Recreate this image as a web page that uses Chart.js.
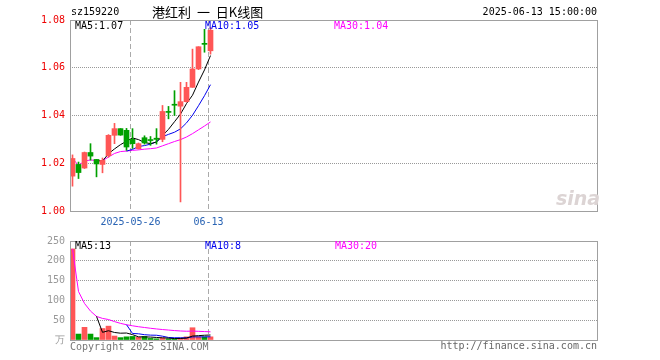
<!DOCTYPE html>
<html>
<head>
<meta charset="utf-8">
<script src="https://cdn.jsdelivr.net/npm/chart.js@4.4.1/dist/chart.umd.min.js"></script>
<style>
  html, body { margin: 0; padding: 0; background: #fff; }
  #wrap { position: relative; width: 660px; height: 360px; overflow: hidden;
          font-family: "DejaVu Sans Mono", monospace; font-size: 10px; color: #000; }
  canvas { position: absolute; left: 0; }
  #kline { top: 0; }
  #vol { top: 230px; }
  .t { position: absolute; white-space: nowrap; line-height: 12px; }
</style>
</head>
<body>
<div id="wrap">
  <canvas id="kline" width="660" height="235"></canvas>
  <canvas id="vol" width="660" height="130"></canvas>

  <div class="t" style="left:71px; top:6px;">sz159220</div>
  <div class="t" style="left:152px; top:4px; line-height:16px; font-family:'Noto Sans CJK SC', sans-serif; font-size:13px; word-spacing:3px;">港红利 一 日K线图</div>
  <div class="t" style="right:63px; top:6px;">2025-06-13 15:00:00</div>

  <div class="t" style="left:75px; top:20px;">MA5:1.07</div>
  <div class="t" style="left:205px; top:20px; color:#0000ee;">MA10:1.05</div>
  <div class="t" style="left:334px; top:20px; color:#ff00ff;">MA30:1.04</div>

  <div class="t" style="left:556px; top:187px; font-family:'DejaVu Sans', sans-serif; font-weight:bold; font-style:italic; font-size:19px; line-height:22px; color:#dcd4d4;">sina</div>

  <div class="t" style="left:75px; top:240px;">MA5:13</div>
  <div class="t" style="left:205px; top:240px; color:#0000ee;">MA10:8</div>
  <div class="t" style="left:335px; top:240px; color:#ff00ff;">MA30:20</div>

  <div class="t" style="left:70px; top:341px; color:#777;">Copyright 2025 SINA.COM</div>
  <div class="t" style="right:63px; top:340px; color:#666;">http://finance.sina.com.cn</div>
</div>

<script>
// trading days, 2025-05-12 .. 2025-06-13
const dates = ["05-12", "05-13", "05-14", "05-15", "05-16", "05-19", "05-20", "05-21", "05-22", "05-23",
  "05-26", "05-27", "05-28", "05-29", "05-30", "06-03", "06-04", "06-05", "06-06", "06-09",
  "06-10", "06-11", "06-12", "06-13"];
const xTickIdx = [10, 23];
const xTickLabels = ["2025-05-26", "06-13"];

const open = [1.0146, 1.0195, 1.0180, 1.0245, 1.0216, 1.0195, 1.0232, 1.0317, 1.0345, 1.0338,
  1.0300, 1.0261, 1.0307, 1.0297, 1.0305, 1.0300, 1.0415, 1.0446, 1.0439, 1.0458,
  1.0518, 1.0595, 1.0700, 1.0671];
const close = [1.0220, 1.0161, 1.0245, 1.0230, 1.0197, 1.0212, 1.0317, 1.0345, 1.0318, 1.0268,
  1.0282, 1.0282, 1.0285, 1.0295, 1.0300, 1.0417, 1.0413, 1.0443, 1.0458, 1.0518,
  1.0595, 1.0688, 1.0698, 1.0757];
const high = [1.0235, 1.0205, 1.0247, 1.0282, 1.0216, 1.0222, 1.0320, 1.0367, 1.0345, 1.0346,
  1.0345, 1.0285, 1.0315, 1.0312, 1.0345, 1.0442, 1.0438, 1.0504, 1.0539, 1.0539,
  1.0678, 1.0688, 1.0761, 1.0768];
const low = [1.0104, 1.0136, 1.0178, 1.0213, 1.0143, 1.0160, 1.0225, 1.0282, 1.0317, 1.0254,
  1.0262, 1.0259, 1.0280, 1.0275, 1.0280, 1.0290, 1.0386, 1.0400, 1.0038, 1.0456,
  1.0518, 1.0592, 1.0665, 1.0657];

const ma5 = [null, null, null, null, 1.0211, 1.0209, 1.0240, 1.0260, 1.0278, 1.0292,
  1.0306, 1.0299, 1.0287, 1.0282, 1.0289, 1.0316, 1.0342, 1.0374, 1.0406, 1.0450,
  1.0485, 1.0540, 1.0591, 1.0651];
const ma10 = [null, null, null, null, null, null, null, null, null, 1.0251,
  1.0258, 1.0270, 1.0274, 1.0280, 1.0290, 1.0311, 1.0321, 1.0330, 1.0344, 1.0369,
  1.0401, 1.0441, 1.0483, 1.0529];
const ma30 = [1.0220, 1.0191, 1.0209, 1.0214, 1.0211, 1.0211, 1.0226, 1.0241, 1.0249, 1.0251,
  1.0254, 1.0256, 1.0259, 1.0261, 1.0264, 1.0273, 1.0282, 1.0291, 1.0299, 1.0310,
  1.0324, 1.0340, 1.0356, 1.0373];

// volume, 万
const vol = [230, 15, 32, 15, 6, 29, 35, 10, 6, 8, 9, 7, 9, 4, 3, 5, 3, 3, 5, 8, 31, 8, 8, 8];
const volMa5 = [null, null, null, null, 59.6, 19.4, 23.4, 19.0, 17.2, 17.6,
  13.6, 8.0, 7.8, 7.4, 6.4, 5.6, 4.8, 3.6, 3.8, 4.8, 10.0, 11.0, 12.0, 12.6];
const volMa10 = [null, null, null, null, null, null, null, null, null, 38.6,
  16.5, 15.7, 13.4, 12.3, 12.0, 9.6, 6.4, 5.7, 5.6, 5.6, 7.8, 7.9, 7.8, 8.2];
const volMa30 = [230, 122.5, 92.3, 73.0, 59.6, 54.5, 51.7, 46.5, 42.0, 38.6,
  35.9, 33.5, 31.6, 29.6, 27.9, 26.4, 25.1, 23.8, 22.8, 22.1, 22.5, 21.9, 21.3, 20.7];

const RED = "#ff5656";
const GREEN = "#00a000";
const MONO = "DejaVu Sans Mono";

const candleColors = close.map((c, i) => (c >= open[i] ? RED : GREEN));
const xy = (arr) => arr.map((v, i) => ({ x: i, y: v }));

// 6px per trading day, candle 0 centred at x=72.5 in a 527px wide plot
const xMin = -2.5 / 6;
const xMax = xMin + 527 / 6;

const frame = {
  id: "frame",
  afterDraw(chart) {
    const { ctx, chartArea: a } = chart;
    ctx.save();
    ctx.strokeStyle = "#a0a0a0";
    ctx.lineWidth = 1;
    ctx.strokeRect(a.left + 0.5, a.top + 0.5, a.right - a.left, a.bottom - a.top);
    ctx.restore();
  }
};

const xScale = (showLabels) => ({
  type: "linear",
  min: xMin,
  max: xMax,
  offset: false,
  afterBuildTicks: (s) => { s.ticks = xTickIdx.map((i) => ({ value: i - 1 / 3 })); },
  afterFit: (s) => { s.height = showLabels ? 24 : 20; },
  ticks: {
    display: showLabels,
    color: "#2a64b4",
    font: { family: MONO, size: 10 },
    padding: 5,
    maxRotation: 0,
    autoSkip: false,
    callback: (v, idx) => xTickLabels[idx]
  },
  grid: { color: "#aaa", drawTicks: false, offset: false },
  border: { display: false, dash: [5, 3] }
});

const lineSet = (label, arr, color) => ({
  type: "line",
  label,
  data: xy(arr),
  borderColor: color,
  borderWidth: 1,
  pointRadius: 0,
  tension: 0,
  spanGaps: false
});

new Chart(document.getElementById("kline"), {
  type: "bar",
  data: {
    datasets: [
      {
        label: "body",
        data: open.map((o, i) => ({ x: i, y: [o, close[i]] })),
        backgroundColor: candleColors,
        barThickness: 5,
        minBarLength: 1,
        grouped: false
      },
      {
        label: "wick",
        data: low.map((l, i) => ({ x: i, y: [l, high[i]] })),
        backgroundColor: candleColors,
        barThickness: 1,
        grouped: false
      },
      lineSet("MA5", ma5, "#000"),
      lineSet("MA10", ma10, "#0000ee"),
      lineSet("MA30", ma30, "#ff00ff")
    ]
  },
  options: {
    responsive: false,
    animation: false,
    layout: { padding: { top: 20, right: 63, left: 0, bottom: 0 } },
    plugins: { legend: { display: false }, tooltip: { enabled: false } },
    scales: {
      x: xScale(true),
      y: {
        min: 1.0,
        max: 1.08,
        afterFit: (s) => { s.width = 70; },
        ticks: {
          stepSize: 0.02,
          color: "#ee0000",
          font: { family: MONO, size: 10 },
          padding: 5,
          callback: (v) => v.toFixed(2)
        },
        grid: {
          drawTicks: false,
          color: (c) => (c.index === 0 || c.index === 4 ? "rgba(0,0,0,0)" : "#999")
        },
        border: { display: false, dash: [1, 1] }
      }
    }
  },
  plugins: [frame]
});

new Chart(document.getElementById("vol"), {
  type: "bar",
  data: {
    datasets: [
      lineSet("MA5", volMa5, "#000"),
      lineSet("MA10", volMa10, "#0000ee"),
      lineSet("MA30", volMa30, "#ff00ff"),
      {
        label: "vol",
        data: xy(vol),
        backgroundColor: candleColors,
        barThickness: 5,
        grouped: false
      }
    ]
  },
  options: {
    responsive: false,
    animation: false,
    layout: { padding: { top: 10, right: 63, left: 0, bottom: 0 } },
    plugins: { legend: { display: false }, tooltip: { enabled: false } },
    scales: {
      x: xScale(false),
      y: {
        min: 0,
        max: 250,
        afterFit: (s) => { s.width = 70; },
        ticks: {
          stepSize: 50,
          color: "#999",
          font: { family: MONO, size: 10 },
          padding: 5,
          callback: (v) => (v === 0 ? "万" : v)
        },
        grid: {
          drawTicks: false,
          color: (c) => (c.index === 0 || c.index === 5 ? "rgba(0,0,0,0)" : "#999")
        },
        border: { display: false, dash: [1, 1] }
      }
    }
  },
  plugins: [frame]
});
</script>
</body>
</html>
